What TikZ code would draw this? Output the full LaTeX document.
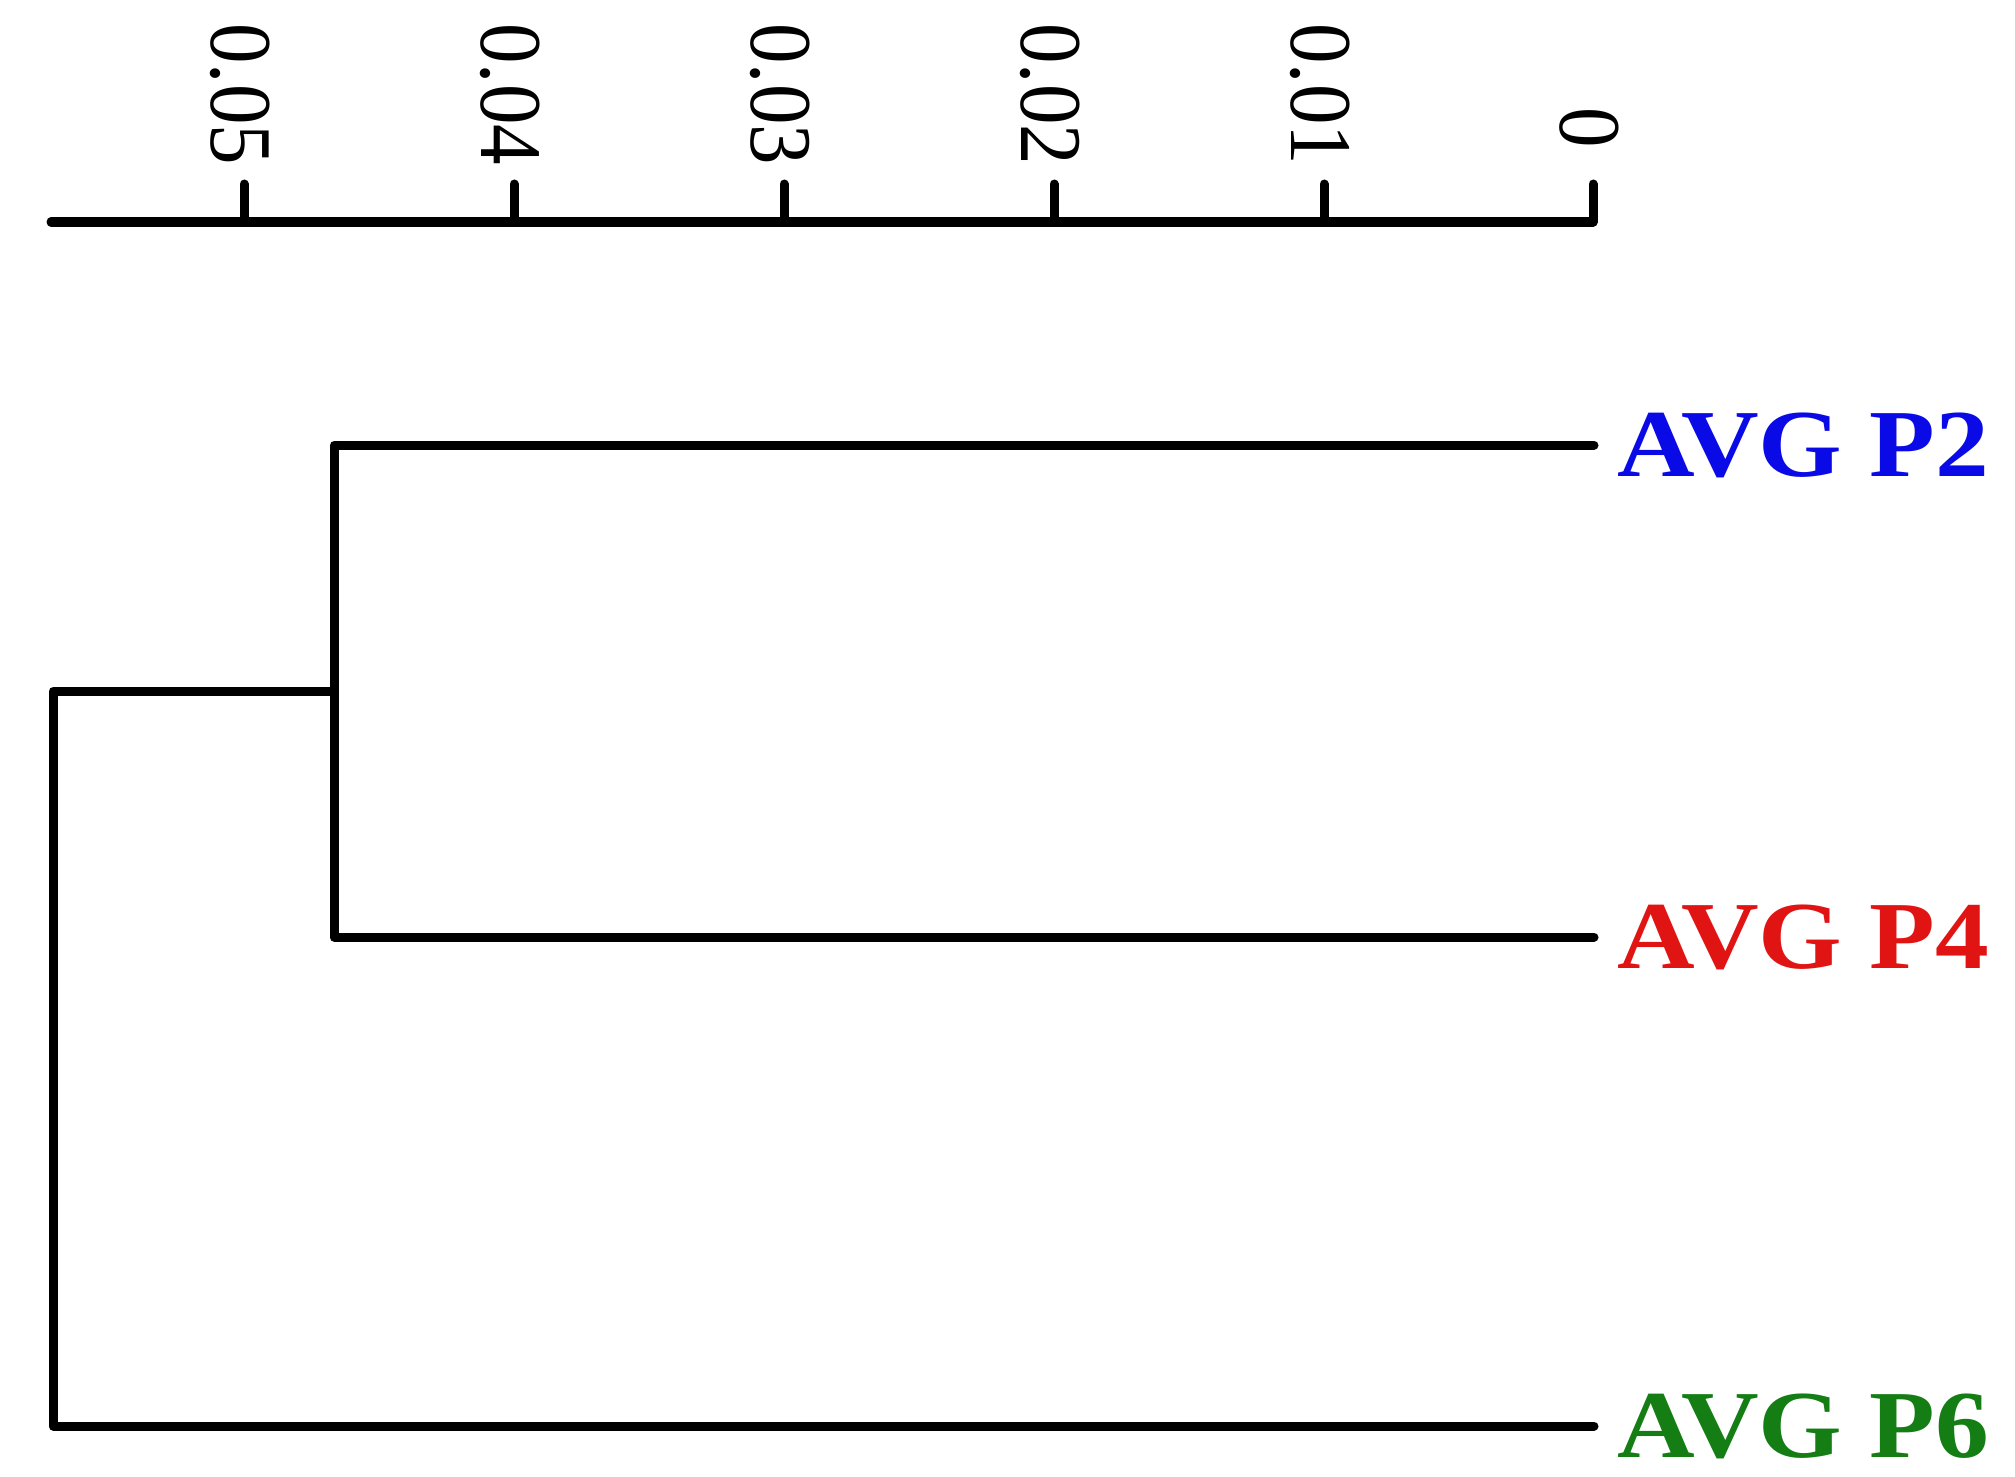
\documentclass[tikz,border=0pt]{standalone}
\usepackage{fontspec}
\usepackage{graphicx}
\setmainfont{Liberation Serif}
\definecolor{lblblue}{RGB}{10,10,230}
\definecolor{lblred}{RGB}{225,20,20}
\definecolor{lblgreen}{RGB}{20,125,20}
\begin{document}
\begin{tikzpicture}[x=0.5pt,y=-0.5pt,
  tree/.style={line width=4.5pt,line cap=round,line join=round,black},
  ticklbl/.style={rotate=-90,anchor=west,inner sep=0pt,font=\fontsize{44}{44}\selectfont},
  leaflbl/.style={anchor=west,inner sep=0pt,font=\fontsize{48}{48}\selectfont\bfseries}]
\useasboundingbox (0,0) rectangle (2015,1477);
% axis
\coordinate (axL) at (51,222);
\coordinate (axR) at (1593,222);
\draw[tree] (axL) -- (axR);
\foreach \v/\x/\t in {0.05/244/23,0.04/514/23,0.03/784/23,0.02/1054/23,0.01/1324/23,0/1593/107}{
  \coordinate (tk\x) at (\x,222);
  \draw[tree] (tk\x) -- ++(0,-38);
  \node[ticklbl] (tl\x) at (\x-4,\t) {\scalebox{0.92}[1]{\v}};
}
% dendrogram
\coordinate (root) at (53,691);
\coordinate (n1) at (334,691);
\coordinate (l2) at (1594,445);
\coordinate (l4) at (1594,937);
\coordinate (l6) at (1594,1426);
\node[leaflbl,text=lblblue] (p2) at (1617,445) {\scalebox{1.12}[1]{AVG P2}};
\node[leaflbl,text=lblred] (p4) at (1617,937) {\scalebox{1.12}[1]{AVG P4}};
\node[leaflbl,text=lblgreen] (p6) at (1617,1426) {\scalebox{1.12}[1]{AVG P6}};
\draw[tree] (l2) -| (n1) |- (l4);
\draw[tree] (n1) -- (root) |- (l6);
\end{tikzpicture}
\end{document}
